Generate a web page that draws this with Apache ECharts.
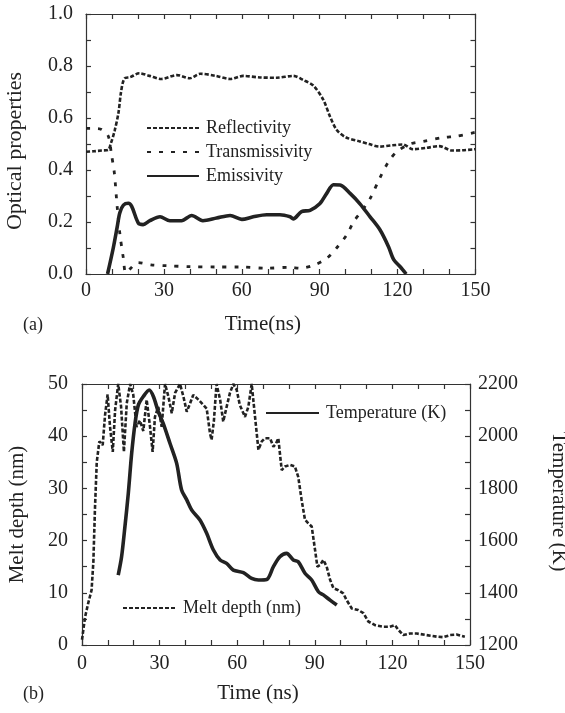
<!DOCTYPE html>
<html><head><meta charset="utf-8">
<script src="https://cdn.jsdelivr.net/npm/echarts@6/dist/echarts.min.js"></script>
<style>html,body{margin:0;padding:0;background:#fff}#c{width:565px;height:713px}</style>
</head><body><div id="c"></div>
<script>
// ---- Panel (a): optical properties vs time (ns) ----
const reflectivity = [[0,0.47],[3,0.472],[6,0.475],[8.5,0.477],[9.5,0.5],[11,0.55],[12.5,0.62],[13.5,0.70],[14.8,0.752],[17,0.757],[20.5,0.772],[24.5,0.762],[29,0.75],[35,0.765],[40,0.753],[44,0.77],[50,0.762],[55.5,0.75],[60.5,0.762],[67,0.756],[73.5,0.755],[79.8,0.762],[83.7,0.746],[87.5,0.725],[91.4,0.67],[94,0.605],[96.5,0.555],[100,0.526],[105.5,0.51],[109,0.50],[113,0.49],[118,0.495],[122,0.498],[126,0.48],[131,0.485],[136,0.492],[141,0.475],[145,0.476],[150,0.48]];
const transmissivity = [[0,0.56],[3,0.56],[6,0.556],[8.6,0.53],[9.8,0.46],[10.9,0.39],[12,0.26],[13.1,0.15],[14.4,0.06],[15.3,0.005],[17,0.02],[20,0.044],[25,0.035],[31,0.032],[40,0.028],[50,0.027],[59,0.027],[69.6,0.022],[78.6,0.026],[82.4,0.022],[87.5,0.033],[92.7,0.06],[96.5,0.10],[100.4,0.15],[103,0.20],[106,0.24],[109.4,0.29],[113.2,0.37],[116.4,0.43],[119.6,0.47],[124.8,0.50],[130,0.51],[137.6,0.525],[142.7,0.53],[150,0.545]];
const emissivity = [[8.3,0],[10.5,0.10],[12,0.18],[13,0.235],[14.4,0.265],[16.3,0.272],[17.6,0.26],[20.2,0.195],[22,0.19],[24.6,0.205],[28.5,0.22],[32.3,0.205],[36.8,0.205],[40.7,0.225],[45,0.205],[50.3,0.215],[55.5,0.225],[60,0.21],[64.4,0.22],[69.6,0.228],[74.7,0.228],[78.6,0.22],[79.8,0.212],[83,0.24],[86.3,0.245],[90,0.27],[92.7,0.31],[95.3,0.343],[97.8,0.342],[101.7,0.31],[105.5,0.27],[109.4,0.22],[113.2,0.17],[116.5,0.105],[118.5,0.055],[121,0.028],[123.3,0]];

// ---- Panel (b): melt depth (nm) and temperature (K) vs time (ns) ----
const meltDepth = [[0,1],[1.2,5.4],[2.4,8],[3.7,10.5],[4.4,16],[5,26],[5.7,35],[6.7,39],[8,38.3],[8.9,44],[9.9,48],[10.8,42],[11.9,37],[12.8,45],[14,50],[15.1,45.7],[16.2,37],[17.3,46.3],[18.6,50],[19.8,48],[21.1,41.8],[22.4,43],[23.7,41],[25,47],[26.3,41.8],[27.3,37],[28.2,43.7],[29.5,45.6],[30.8,41.8],[32.1,50],[33.4,47.6],[34.7,44.4],[36,48.3],[37.9,50],[39.2,47.6],[40.5,44.7],[41.8,46.3],[43,47.9],[45,47],[46.9,46],[48.2,45.3],[49.5,40.5],[50.1,39.3],[51,43],[52,50],[53.4,47],[54.6,42.8],[55.9,45.6],[57.2,48.3],[58.5,50],[59.8,48.9],[61,46],[63,43.7],[64.3,45.6],[65.6,50],[66.9,43.7],[68.2,37.4],[69.5,39],[70.7,39.6],[72.7,39.6],[74,38],[75,38.6],[75.9,39.6],[77.2,33.5],[78.5,34.2],[80.4,34.5],[82.3,34.2],[83.6,32.2],[84.9,27.8],[86.2,24],[87.5,23.3],[88.8,22.7],[90.1,18.2],[91,15],[92,15.3],[93.3,16.3],[94.6,15],[95.9,12.5],[97.2,10.9],[99.1,10.5],[101,9.9],[102.3,8.6],[104.3,7],[106.8,6.7],[108.8,6.1],[110.7,4.5],[113.3,3.8],[116.5,3.5],[119,3.5],[121,3.8],[122.3,2.9],[124.2,1.9],[126.8,2.2],[129.4,2.2],[133.2,1.9],[137.1,1.6],[139.7,1.5],[142.3,1.9],[144.8,2],[148,1.6]];
const temperature = [[14,1468],[15.3,1538],[16.6,1654],[17.9,1781],[19.2,1934],[20.5,2049],[21.8,2120],[23.7,2152],[26,2177],[27.6,2152],[29.5,2094],[31.4,2049],[34,1973],[36.6,1896],[38.5,1794],[40.5,1756],[42.4,1717],[45.6,1679],[48.2,1628],[50.8,1564],[53.4,1526],[55.9,1513],[58.5,1487],[62.4,1477],[65.6,1455],[68.2,1449],[71.4,1451],[74,1500],[76.5,1538],[79.1,1551],[81.7,1526],[83.6,1519],[86.2,1475],[88.8,1449],[91.4,1404],[93.3,1392],[95.9,1372],[98.5,1353]];

const FONT = '"Liberation Serif", "DejaVu Serif", serif';
const INK = '#222';

const chart = echarts.init(document.getElementById('c'), null, {renderer:'canvas'});

function axisBase(extra){
  return Object.assign({
    type:'value',
    axisLine:{show:true, onZero:false, lineStyle:{color:'#333', width:1.2}},
    axisTick:{show:true, inside:true, length:5, lineStyle:{color:'#333', width:1.2}},
    splitLine:{show:false},
    axisLabel:{fontFamily:FONT, fontSize:20, color:INK},
    nameTextStyle:{fontFamily:FONT, fontSize:21, color:INK}
  }, extra);
}

const legendText = {fontFamily:FONT, fontSize:18, color:INK, lineHeight:20, padding:[0,0,0,2]};
const legendHiddenSymbol = {color:'rgba(0,0,0,0)', borderWidth:0, opacity:0};

const option = {
  animation:false,
  backgroundColor:'#fff',
  grid:[
    {left:86, top:14, width:389.5, height:260, containLabel:false, outerBoundsMode:'none'},
    {left:82, top:384, width:388, height:261, containLabel:false, outerBoundsMode:'none'}
  ],
  xAxis:[
    axisBase({gridIndex:0, min:0, max:150, interval:10, position:'bottom',
      axisLabel:{fontFamily:FONT, fontSize:20, color:INK, margin:7,
        formatter:v => (Math.round(v)%30===0 ? String(v) : '')},
      name:'Time(ns)', nameLocation:'middle', nameGap:40,
      nameTextStyle:{fontFamily:FONT, fontSize:21, color:INK, padding:[0,36,0,0]}}),
    axisBase({gridIndex:0, min:0, max:150, interval:10, position:'top', axisLabel:{show:false}}),
    axisBase({gridIndex:1, min:0, max:150, interval:10, position:'bottom',
      axisLabel:{fontFamily:FONT, fontSize:20, color:INK, margin:9,
        formatter:v => (Math.round(v)%30===0 ? String(v) : '')},
      name:'Time (ns)', nameLocation:'middle', nameGap:38,
      nameTextStyle:{fontFamily:FONT, fontSize:21, color:INK, padding:[0,36,0,0]}}),
    axisBase({gridIndex:1, min:0, max:150, interval:10, position:'top', axisLabel:{show:false}})
  ],
  yAxis:[
    axisBase({gridIndex:0, min:0, max:1, interval:0.1, position:'left',
      axisLabel:{fontFamily:FONT, fontSize:20, color:INK, margin:13,
        formatter:v => (Math.round(v*10)%2===0 ? v.toFixed(1) : '')},
      name:'Optical properties', nameLocation:'middle', nameGap:60,
      nameTextStyle:{fontFamily:FONT, fontSize:22, color:INK, padding:[0,14,0,0]}}),
    axisBase({gridIndex:0, min:0, max:1, interval:0.1, position:'right', axisLabel:{show:false}}),
    axisBase({gridIndex:1, min:0, max:50, interval:5, position:'left',
      axisLabel:{fontFamily:FONT, fontSize:20, color:INK, margin:14,
        formatter:v => (Math.round(v)%10===0 ? String(v) : '')},
      name:'Melt depth (nm)', nameLocation:'middle', nameGap:54,
      nameTextStyle:{fontFamily:FONT, fontSize:21, color:INK}}),
    axisBase({gridIndex:1, min:1200, max:2200, interval:100, position:'right',
      axisLabel:{fontFamily:FONT, fontSize:20, color:INK, margin:8,
        formatter:v => (Math.round(v)%200===0 ? String(v) : '')},
      name:'Temperature (K)', nameLocation:'middle', nameGap:78, nameRotate:-90,
      nameTextStyle:{fontFamily:FONT, fontSize:21, color:INK, padding:[0,26,0,0]}})
  ],
  legend:[
    {data:['Reflectivity','Transmissivity','Emissivity'], orient:'vertical', left:146, top:118,
      itemWidth:52, itemHeight:12, itemGap:4, padding:0, textStyle:legendText, itemStyle:legendHiddenSymbol},
    {data:['Temperature (K)'], left:265, top:403, itemWidth:53, itemHeight:12, padding:0,
      textStyle:legendText, itemStyle:legendHiddenSymbol},
    {data:['Melt depth (nm)'], left:122, top:598, itemWidth:53, itemHeight:12, padding:0,
      textStyle:legendText, itemStyle:legendHiddenSymbol}
  ],
  series:[
    {name:'Reflectivity', type:'line', xAxisIndex:0, yAxisIndex:0, data:reflectivity, symbol:'none', smooth:0.3,
      lineStyle:{color:INK, width:2.6, type:[4,2]}, itemStyle:{color:INK}},
    {name:'Transmissivity', type:'line', xAxisIndex:0, yAxisIndex:0, data:transmissivity, symbol:'none', smooth:0.3,
      lineStyle:{color:INK, width:2.8, type:[4,8]}, itemStyle:{color:INK}},
    {name:'Emissivity', type:'line', xAxisIndex:0, yAxisIndex:0, data:emissivity, symbol:'none', smooth:0.3,
      lineStyle:{color:INK, width:3.6}, itemStyle:{color:INK}},
    {name:'Melt depth (nm)', type:'line', xAxisIndex:2, yAxisIndex:2, data:meltDepth, symbol:'none',
      lineStyle:{color:INK, width:2.6, type:[4,2]}, itemStyle:{color:INK}},
    {name:'Temperature (K)', type:'line', xAxisIndex:2, yAxisIndex:3, data:temperature, symbol:'none', smooth:0.3,
      lineStyle:{color:INK, width:3.6}, itemStyle:{color:INK}}
  ],
  graphic:[
    {type:'text', left:23, top:316, style:{text:'(a)', fontFamily:FONT, fontSize:18, fill:INK}},
    {type:'text', left:23, top:685, style:{text:'(b)', fontFamily:FONT, fontSize:18, fill:INK}}
  ]
};
chart.setOption(option);
</script>
</body></html>
